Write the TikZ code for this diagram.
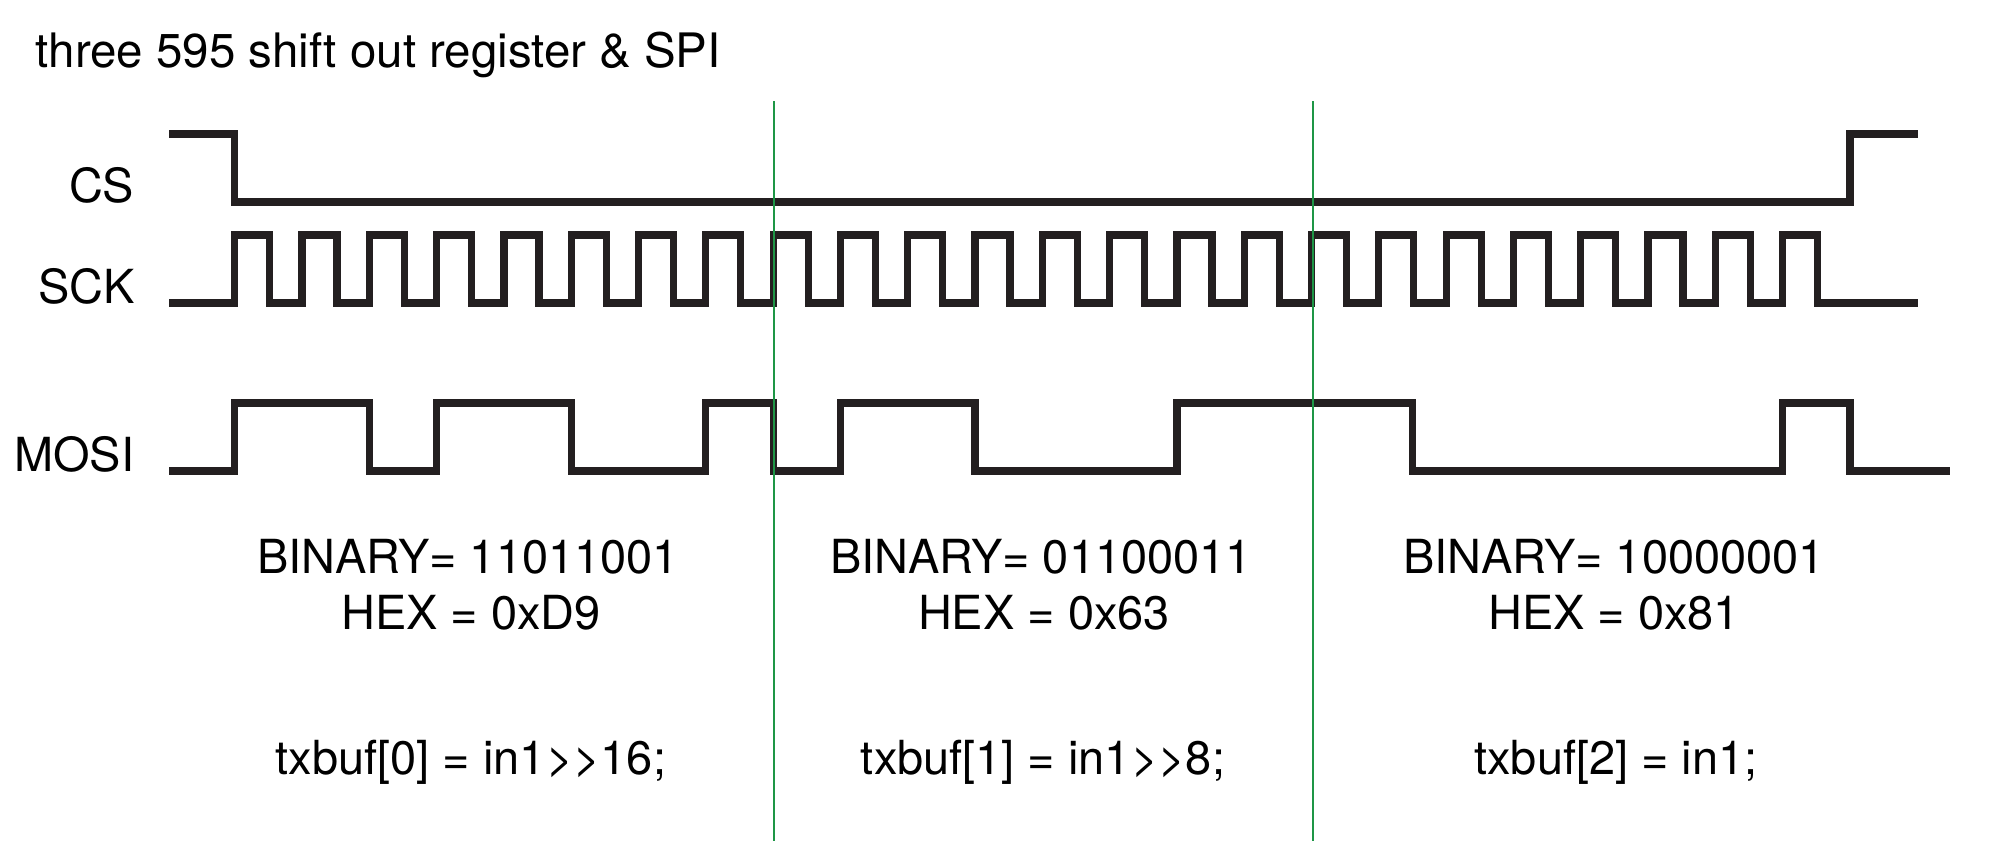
\documentclass[tikz,border=0pt]{standalone}
\usepackage{fontspec}
\setmainfont{TeX Gyre Heros}[Ligatures=TeXOff]
\usepackage{tikz}
\usetikzlibrary{positioning}
\definecolor{sigblack}{RGB}{35,31,32}
\definecolor{divgreen}{RGB}{30,150,70}
\tikzstyle{wave}=[draw=sigblack,line width=0.072cm,line join=miter]
\tikzstyle{divider}=[draw=divgreen,line width=0.02cm]
\tikzstyle{txt}=[inner sep=0pt,text=black,font=\fontsize{13.35pt}{15pt}\selectfont]

\begin{document}
\begin{tikzpicture}[x=0.01cm,y=-0.01cm]
\useasboundingbox (0,0) rectangle (2000,841);

% title and signal names
\node [txt,anchor=base west,font=\fontsize{13.5pt}{15pt}\selectfont] (title) at (35,67) {three 595 shift out register \& SPI};
\node [txt,anchor=base east] (cs) at (135,202) {CS};
\node [txt,anchor=base east] (sck) at (135,303) {SCK};
\node [txt,anchor=base east] (mosi) at (135,471) {MOSI};

% CS
\draw [wave] (169,134) -| (234.7,202) -| (1849.9,134) -- (1918,134);
% SCK, 24 clocks
\draw [wave] (169,303) foreach \k in {0,...,23} {
    -- ({234.7+\k*67.3},303) -- ++(0,-68) -- ++(35,0) -- ++(0,68)
  } -- (1918,303);
% MOSI
\draw [wave] (169,471) -| (234.7,403) -| (369.3,471) -| (436.6,403)
  -| (571.2,471) -| (705.8,403) -| (773.1,471) -| (840.4,403)
  -| (975,471) -| (1176.9,403) -| (1412.5,471) -| (1782.6,403)
  -| (1849.9,471) -- (1950,471);

% byte boundaries
\draw [divider] (773.6,101) -- (773.6,841);
\draw [divider] (1312.5,101) -- (1312.5,841);

% bytes
\node [txt,anchor=base] (bin0) at (468,573) {BINARY= 11011001};
\node [txt,anchor=base] (hex0) at (471,629) {HEX = 0xD9};
\node [txt,anchor=base] (buf0) at (471,774) {txbuf[0] = in1>>16;};

\node [txt,anchor=base] (bin1) at (1041,573) {BINARY= 01100011};
\node [txt,anchor=base] (hex1) at (1044,629) {HEX = 0x63};
\node [txt,anchor=base] (buf1) at (1043,774) {txbuf[1] = in1>>8;};

\node [txt,anchor=base] (bin2) at (1614,573) {BINARY= 10000001};
\node [txt,anchor=base] (hex2) at (1614,629) {HEX = 0x81};
\node [txt,anchor=base] (buf2) at (1616,774) {txbuf[2] = in1;};
\end{tikzpicture}
\end{document}
